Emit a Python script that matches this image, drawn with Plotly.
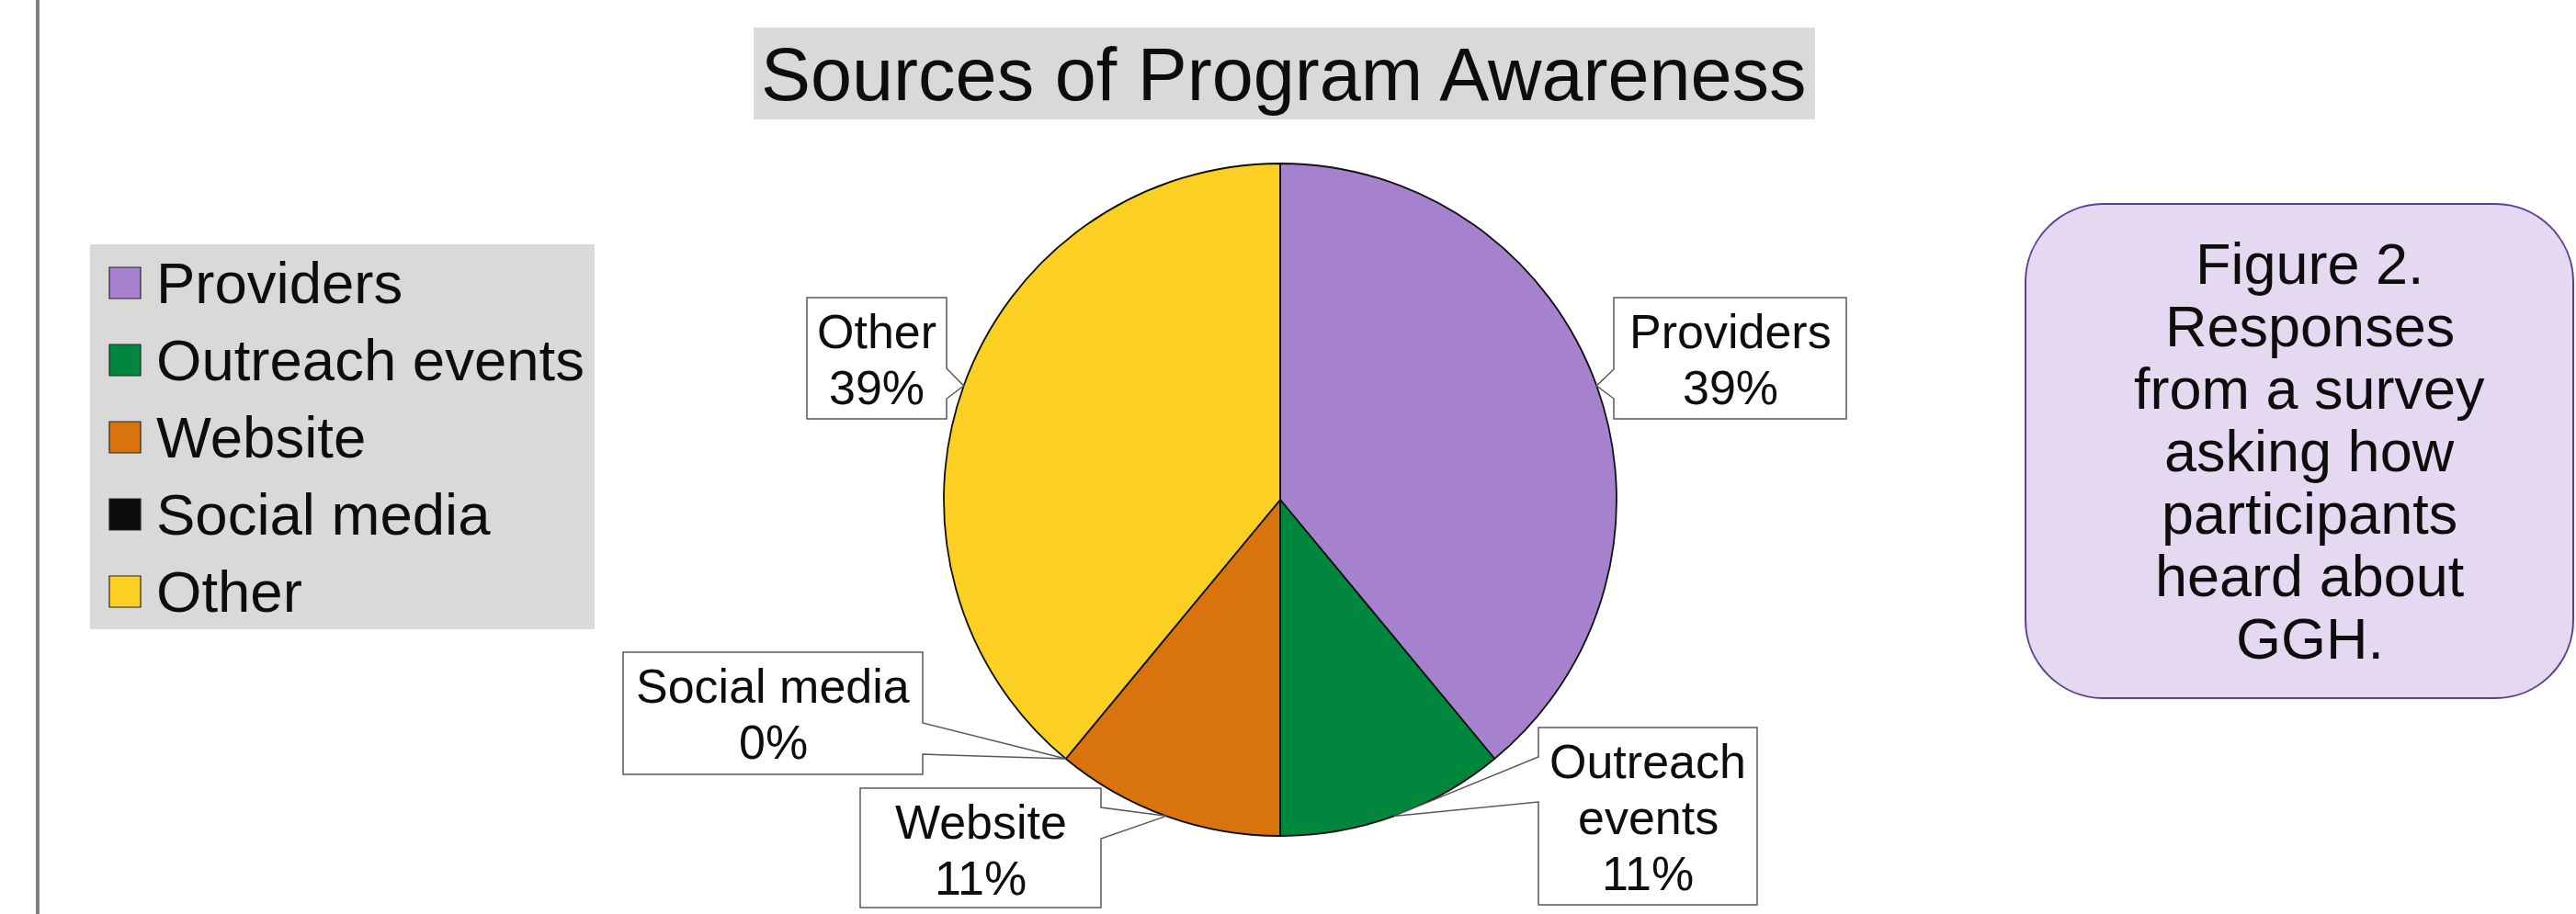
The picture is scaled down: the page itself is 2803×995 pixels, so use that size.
import math
import plotly.graph_objects as go

# ---------------- data ----------------
categories = ["Providers", "Outreach events", "Website", "Social media", "Other"]
shares = [39, 11, 11, 0, 39]
slice_colors = ["#a682ce", "#00873e", "#d9730d", "#0d0d0d", "#fcd022"]

chart_title = "Sources of Program Awareness"
note_lines = ["Figure 2.", "Responses", "from a survey", "asking how",
              "participants", "heard about", "GGH."]
callout_wrap = {"Outreach events": ["Outreach", "events"]}

# ---------------- layout / style ----------------
W, H = 2803, 995
FONT = "Liberation Sans, Arial, Helvetica, sans-serif"
INK = "#0d0d0d"
PIE_CX, PIE_CY, PIE_R = 1393, 544, 366

# callout boxes (pixels): x0, y0, x1, y1, side of pointer, pointer y1, pointer y2
callout_boxes = [
    (1756, 324, 2009, 456, "left", 402, 434),
    (1674, 792, 1912, 985, "left", 824, 873),
    (936, 858, 1198, 988, "right", 879, 913),
    (678, 710, 1004, 843, "right", 787, 821),
    (878, 324, 1030, 456, "right", 401, 434),
]
CALLOUT_FS = 52
CALLOUT_FIRST = 55
CALLOUT_STEP = 61

LEG = dict(x0=98, y0=266, x1=647, y1=685, sq_x=119, sq=34, cy0=308, step=84,
           tx=168, fs=63.5)
NOTE = dict(x0=2204, y0=222, x1=2800, y1=760, r=85, cx=2513, cy=491, step=68, fs=63)


def X(px):
    return px / W


def Y(py):
    return 1 - py / H


def P(px, py):
    return f"{X(px):.6f},{Y(py):.6f}"


fig = go.Figure()

fig.add_trace(go.Pie(
    labels=categories,
    values=shares,
    sort=False,
    direction="clockwise",
    rotation=0,
    textinfo="none",
    hoverinfo="label+percent",
    showlegend=False,
    marker=dict(colors=slice_colors, line=dict(color="#111111", width=1.8)),
    domain=dict(x=[X(PIE_CX - PIE_R), X(PIE_CX + PIE_R)],
                y=[Y(PIE_CY + PIE_R), Y(PIE_CY - PIE_R)]),
))

shapes = []
annotations = []


def add_text(px, py, s, size, anchor="center"):
    annotations.append(dict(
        x=X(px), y=Y(py), xref="paper", yref="paper", text=s, showarrow=False,
        xanchor=anchor, yanchor="middle",
        font=dict(family=FONT, size=size, color=INK)))


# left vertical rule
shapes.append(dict(type="line", xref="paper", yref="paper",
                   x0=X(41), x1=X(41), y0=0, y1=1,
                   line=dict(color="#808080", width=4)))

# title
shapes.append(dict(type="rect", xref="paper", yref="paper",
                   x0=X(820), x1=X(1975), y0=Y(130), y1=Y(30),
                   fillcolor="#d9d9d9", line=dict(width=0), layer="below"))
add_text(1397, 109 - 0.3465 * 81, chart_title, 81)

# legend (custom, large swatches)
shapes.append(dict(type="rect", xref="paper", yref="paper",
                   x0=X(LEG["x0"]), x1=X(LEG["x1"]), y0=Y(LEG["y1"]), y1=Y(LEG["y0"]),
                   fillcolor="#d9d9d9", line=dict(width=0), layer="below"))
for i, (name, col) in enumerate(zip(categories, slice_colors)):
    cy = LEG["cy0"] + LEG["step"] * i
    shapes.append(dict(type="rect", xref="paper", yref="paper",
                       x0=X(LEG["sq_x"]), x1=X(LEG["sq_x"] + LEG["sq"]),
                       y0=Y(cy + LEG["sq"] / 2), y1=Y(cy - LEG["sq"] / 2),
                       fillcolor=col, line=dict(color="#262626", width=1.2)))
    add_text(LEG["tx"], cy, name, LEG["fs"], anchor="left")

# callouts
total = sum(shares)
cum = 0
for name, v, box in zip(categories, shares, callout_boxes):
    mid = (cum + v / 2) / total * 2 * math.pi
    cum += v
    ax = PIE_CX + PIE_R * math.sin(mid)
    ay = PIE_CY - PIE_R * math.cos(mid)
    x0, y0, x1, y1, side, p1, p2 = box
    if side == "left":
        path = (f"M{P(x0, y0)} L{P(x1, y0)} L{P(x1, y1)} L{P(x0, y1)} "
                f"L{P(x0, p2)} L{P(ax, ay)} L{P(x0, p1)} Z")
    else:
        path = (f"M{P(x0, y0)} L{P(x1, y0)} L{P(x1, p1)} L{P(ax, ay)} "
                f"L{P(x1, p2)} L{P(x1, y1)} L{P(x0, y1)} Z")
    shapes.append(dict(type="path", xref="paper", yref="paper", path=path,
                       fillcolor="white", line=dict(color="#595959", width=1.5)))
    pct = f"{round(100 * v / total)}%"
    lines = callout_wrap.get(name, [name]) + [pct]
    for j, ln in enumerate(lines):
        base = y0 + CALLOUT_FIRST + CALLOUT_STEP * j
        add_text((x0 + x1) / 2, base - 0.3465 * CALLOUT_FS, ln, CALLOUT_FS)

# figure note box (rounded)
x0, y0, x1, y1, r = NOTE["x0"], NOTE["y0"], NOTE["x1"], NOTE["y1"], NOTE["r"]
k = 0.5523 * r
rpath = (f"M{P(x0 + r, y0)} L{P(x1 - r, y0)} "
         f"C{P(x1 - r + k, y0)} {P(x1, y0 + r - k)} {P(x1, y0 + r)} "
         f"L{P(x1, y1 - r)} "
         f"C{P(x1, y1 - r + k)} {P(x1 - r + k, y1)} {P(x1 - r, y1)} "
         f"L{P(x0 + r, y1)} "
         f"C{P(x0 + r - k, y1)} {P(x0, y1 - r + k)} {P(x0, y1 - r)} "
         f"L{P(x0, y0 + r)} "
         f"C{P(x0, y0 + r - k)} {P(x0 + r - k, y0)} {P(x0 + r, y0)} Z")
shapes.append(dict(type="path", xref="paper", yref="paper", path=rpath,
                   fillcolor="#e4d9f1", line=dict(color="#5e3f96", width=2)))
n = len(note_lines)
for i, ln in enumerate(note_lines):
    add_text(NOTE["cx"], NOTE["cy"] + (i - (n - 1) / 2) * NOTE["step"], ln, NOTE["fs"])

fig.update_layout(
    width=W, height=H,
    margin=dict(l=0, r=0, t=0, b=0),
    paper_bgcolor="white",
    plot_bgcolor="white",
    showlegend=False,
    shapes=shapes,
    annotations=annotations,
    font=dict(family=FONT, color=INK),
)

fig.write_html("out.html")
